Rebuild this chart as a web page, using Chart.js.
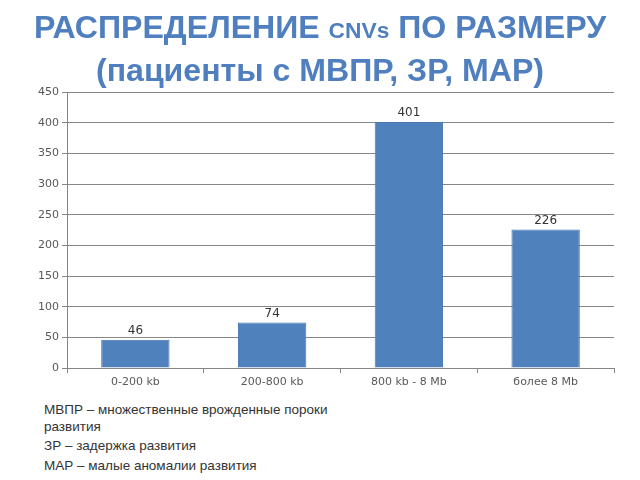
<!DOCTYPE html>
<html>
<head>
<meta charset="utf-8">
<script src="https://cdn.jsdelivr.net/npm/chart.js@4/dist/chart.umd.min.js"></script>
<style>
  body { margin: 0; background: #fff; width: 640px; height: 480px; position: relative; overflow: hidden; }
  #title { position: absolute; left: 0; top: 8px; width: 640px; text-align: center;
    font-family: "Liberation Sans", Arial, sans-serif; font-weight: bold; color: #4f7fbe;
    font-size: 31px; line-height: 40px; transform: scaleX(1.035); transform-origin: 320px 0; }
  #title .small { font-size: 22px; }
  #chartBox { position: absolute; left: 0; top: 0; width: 640px; height: 400px; }
  #notes { position: absolute; left: 44px; top: 402px; font-family: "Liberation Sans", Arial, sans-serif;
    font-size: 13.5px; line-height: 16.5px; color: #333; }
  #notes div { margin-bottom: 3px; }
</style>
</head>
<body>
<div id="chartBox"><canvas id="chart"></canvas></div>
<div id="title">РАСПРЕДЕЛЕНИЕ <span class="small">CNVs</span> ПО РАЗМЕРУ<br>(пациенты с МВПР, ЗР, МАР)</div>
<div id="notes">
  <div>МВПР – множественные врожденные пороки<br>развития</div>
  <div>ЗР – задержка развития</div>
  <div>МАР – малые аномалии развития</div>
</div>
<script>
// data
const categories = ['0-200 kb', '200-800 kb', '800 kb - 8 Mb', 'более 8 Mb'];
const counts = [46, 74, 401, 226];
const yTicks = [0, 50, 100, 150, 200, 250, 300, 350, 400, 450];

// writes the value above each bar
const barLabels = {
  id: 'barLabels',
  afterDatasetsDraw(chart) {
    const ctx = chart.ctx;
    const meta = chart.getDatasetMeta(0);
    ctx.save();
    ctx.font = '12px "DejaVu Sans", sans-serif';
    ctx.fillStyle = '#333';
    ctx.textAlign = 'center';
    ctx.textBaseline = 'bottom';
    meta.data.forEach((bar, i) => {
      ctx.fillText(counts[i], bar.x, bar.y - 3);
    });
    ctx.restore();
  }
};

const ctx = document.getElementById('chart').getContext('2d');
new Chart(ctx, {
  type: 'bar',
  data: {
    labels: categories,
    datasets: [{
      data: counts,
      backgroundColor: '#4f81bd',
      borderColor: '#4677b3',
      borderWidth: 1,
      categoryPercentage: 1,
      barPercentage: 0.5
    }]
  },
  options: {
    responsive: true,
    maintainAspectRatio: false,
    animation: false,
    layout: { padding: { top: 92, right: 26, left: 0, bottom: 0 } },
    plugins: { legend: { display: false }, tooltip: { enabled: false } },
    scales: {
      x: {
        afterFit: (s) => { s.height = 32; },
        grid: { offset: true, drawOnChartArea: false, color: '#868686', tickLength: 5 },
        border: { color: '#868686' },
        ticks: { color: '#595959', font: { family: '"DejaVu Sans", sans-serif', size: 11 }, padding: 3 }
      },
      y: {
        min: 0,
        max: 450,
        afterFit: (s) => { s.width = 67; },
        afterBuildTicks: (s) => { s.ticks = yTicks.map(v => ({ value: v })); },
        grid: { color: '#868686', tickLength: 5 },
        border: { color: '#868686' },
        ticks: { color: '#595959', font: { family: '"DejaVu Sans", sans-serif', size: 11 }, padding: 3 }
      }
    }
  },
  plugins: [barLabels]
});
</script>
</body>
</html>
